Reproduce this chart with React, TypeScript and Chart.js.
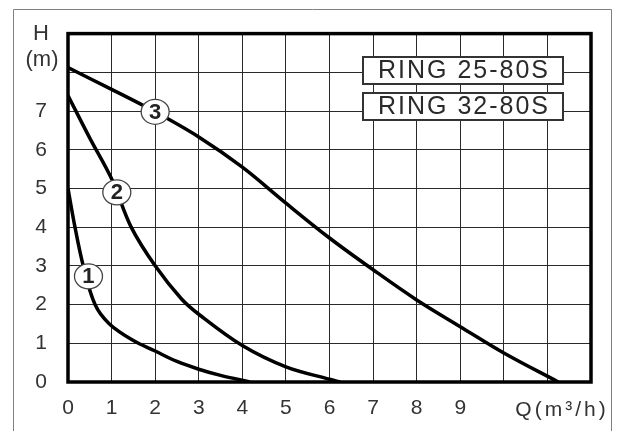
import React, { useEffect, useRef } from "react";
import { Chart, registerables } from "chart.js";
Chart.register(...registerables);

const xMax = 12;
const yMax = 9;
const xTickLabels = ["0", "1", "2", "3", "4", "5", "6", "7", "8", "9"];
const yTickLabels = ["0", "1", "2", "3", "4", "5", "6", "7"];

const curve1Q = [0, 0.16, 0.35, 0.62, 0.95, 1.5, 2.0, 2.5, 3.0, 3.5, 4.17];
const curve1H = [5.0, 4.0, 3.0, 2.0, 1.5, 1.07, 0.8, 0.53, 0.33, 0.17, 0];

const curve2Q = [0, 0.5, 1.0, 1.45, 2.0, 2.6, 3.0, 4.0, 5.0, 6.0, 6.25];
const curve2H = [7.4, 6.3, 5.25, 4.0, 3.0, 2.15, 1.75, 0.94, 0.39, 0.07, 0];

const curve3Q = [0, 1, 2, 3, 4, 5, 6, 7, 8, 9, 10, 11.25];
const curve3H = [8.12, 7.56, 6.98, 6.33, 5.55, 4.62, 3.72, 2.9, 2.12, 1.43, 0.75, 0];

const curveLabels = ["1", "2", "3"];
const curveLabelQ = [0.47, 1.12, 2.0];
const curveLabelH = [2.73, 4.9, 6.98];

const legendNames = ["RING 25-80S", "RING 32-80S"];
const xTitle = "Q(m³/h)";
const yTitleTop = "H";
const yTitleUnit = "(m)";

const FONT = "'Liberation Sans', Arial, sans-serif";

const toPoints = (q: number[], h: number[]) => q.map((v, i) => ({ x: v, y: h[i] }));

const decorPlugin = {
  id: "decor",
  beforeDraw(chart: any) {
    const ctx = chart.ctx;
    ctx.save();
    ctx.fillStyle = "#ffffff";
    ctx.fillRect(0, 0, chart.width, chart.height);
    ctx.strokeStyle = "#808080";
    ctx.lineWidth = 1;
    ctx.beginPath();
    ctx.moveTo(13.5, chart.height);
    ctx.lineTo(13.5, 9.5);
    ctx.lineTo(611.5, 9.5);
    ctx.lineTo(611.5, chart.height);
    ctx.stroke();
    ctx.restore();
  },
  afterDatasetsDraw(chart: any) {
    const ctx = chart.ctx;
    const a = chart.chartArea;
    const xs = chart.scales.x;
    const ys = chart.scales.y;
    ctx.save();
    ctx.strokeStyle = "#000";
    ctx.lineWidth = 3.5;
    ctx.strokeRect(a.left, a.top, a.right - a.left, a.bottom - a.top);

    for (let i = 0; i < curveLabels.length; i++) {
      const cx = xs.getPixelForValue(curveLabelQ[i]);
      const cy = ys.getPixelForValue(curveLabelH[i]);
      ctx.beginPath();
      ctx.ellipse(cx, cy, 14, 12.5, 0, 0, Math.PI * 2);
      ctx.fillStyle = "#fff";
      ctx.fill();
      ctx.lineWidth = 1.3;
      ctx.strokeStyle = "#444";
      ctx.stroke();
      ctx.fillStyle = "#222";
      ctx.font = `bold 22px ${FONT}`;
      ctx.textAlign = "center";
      ctx.textBaseline = "middle";
      ctx.fillText(curveLabels[i], cx, cy + 1);
    }

    const boxes = [
      { x: 363, y: 57, w: 200, h: 27 },
      { x: 363, y: 93, w: 200, h: 27 },
    ];
    for (let i = 0; i < legendNames.length; i++) {
      const b = boxes[i];
      ctx.fillStyle = "#fff";
      ctx.fillRect(b.x, b.y, b.w, b.h);
      ctx.lineWidth = 2;
      ctx.strokeStyle = "#333";
      ctx.strokeRect(b.x, b.y, b.w, b.h);
      ctx.fillStyle = "#2a2a2a";
      ctx.font = `25px ${FONT}`;
      (ctx as any).letterSpacing = "2px";
      ctx.textAlign = "center";
      ctx.textBaseline = "middle";
      ctx.fillText(legendNames[i], b.x + b.w / 2 + 1, b.y + b.h / 2 + 1);
      (ctx as any).letterSpacing = "0px";
    }

    ctx.fillStyle = "#333";
    ctx.font = `22px ${FONT}`;
    ctx.textAlign = "center";
    ctx.textBaseline = "middle";
    ctx.fillText(yTitleTop, 41, 34);
    ctx.fillText(yTitleUnit, 42, 60);
    ctx.font = `21px ${FONT}`;
    (ctx as any).letterSpacing = "3px";
    ctx.fillText(xTitle, 562, 410);
    (ctx as any).letterSpacing = "0px";
    ctx.restore();
  },
};

export default function App() {
  const ref = useRef<HTMLCanvasElement | null>(null);
  useEffect(() => {
    document.body.style.margin = "0";
    const lineDs = (q: number[], h: number[]) => ({
      data: toPoints(q, h),
      borderColor: "#000",
      borderWidth: 3.5,
      pointRadius: 0,
      fill: false,
      tension: 0.35,
    });
    const chart = new Chart(ref.current as HTMLCanvasElement, {
      type: "line",
      data: {
        datasets: [lineDs(curve1Q, curve1H), lineDs(curve2Q, curve2H), lineDs(curve3Q, curve3H)],
      },
      options: {
        animation: false,
        responsive: false,
        devicePixelRatio: 1,
        layout: { padding: { left: 0, top: 30, right: 30, bottom: 0 } },
        plugins: { legend: { display: false }, tooltip: { enabled: false } },
        scales: {
          x: {
            type: "linear",
            min: 0,
            max: xMax,
            border: { display: false },
            grid: { color: "#2a2a2a", lineWidth: 1, drawTicks: false },
            afterFit: (s: any) => {
              s.height = 49;
            },
            ticks: {
              stepSize: 1,
              padding: 14,
              color: "#333",
              font: { family: FONT, size: 21 },
              maxRotation: 0,
              autoSkip: false,
              callback: (v: any) => (v < xTickLabels.length ? xTickLabels[v] : ""),
            },
          },
          y: {
            type: "linear",
            min: 0,
            max: yMax,
            border: { display: false },
            grid: { color: "#2a2a2a", lineWidth: 1, drawTicks: false },
            afterFit: (s: any) => {
              s.width = 68;
            },
            ticks: {
              stepSize: 1,
              padding: 21,
              color: "#333",
              font: { family: FONT, size: 21 },
              autoSkip: false,
              callback: (v: any) => (v < yTickLabels.length ? yTickLabels[v] : ""),
            },
          },
        },
      },
      plugins: [decorPlugin],
    });
    return () => chart.destroy();
  }, []);
  return <canvas ref={ref} width={621} height={431} style={{ display: "block" }} />;
}
